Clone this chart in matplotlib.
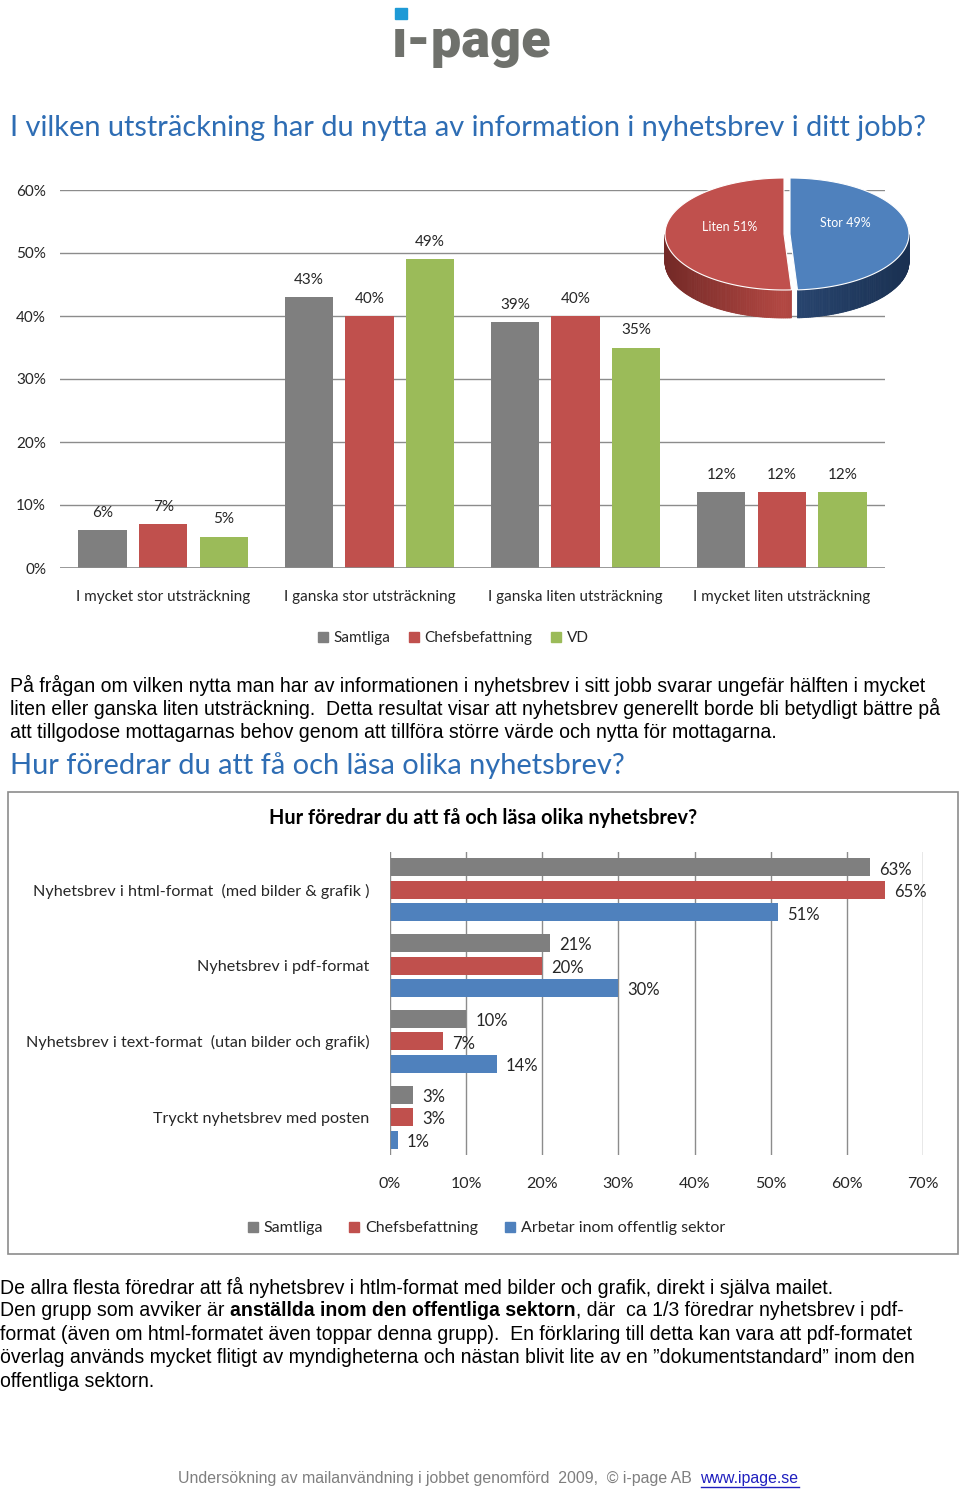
import numpy as np
import matplotlib
matplotlib.use("Agg")
from matplotlib import pyplot as plt
from matplotlib.patches import Polygon, Rectangle
from matplotlib.lines import Line2D

# data - top chart
top_cats = ["I mycket stor utsträckning", "I ganska stor utsträckning",
            "I ganska liten utsträckning", "I mycket liten utsträckning"]
top_series = ["Samtliga", "Chefsbefattning", "VD"]
samtliga = [6, 43, 39, 12]
chefs = [7, 40, 40, 12]
vd = [5, 49, 35, 12]

# data - pie
pie_labels = ["Liten", "Stor"]
pie_vals = [51, 49]

# data - horizontal chart
h_cats = ["Nyhetsbrev i html-format  (med bilder & grafik )", "Nyhetsbrev i pdf-format",
          "Nyhetsbrev i text-format  (utan bilder och grafik)", "Tryckt nyhetsbrev med posten"]
h_series = ["Samtliga", "Chefsbefattning", "Arbetar inom offentlig sektor"]
h_samtliga = [63, 21, 10, 3]
h_chefs = [65, 20, 7, 3]
h_offentlig = [51, 30, 14, 1]

GREY = "#7F7F7F"
RED = "#C0504D"
GREEN = "#9BBB59"
BLUE = "#4F81BD"
TITLE_BLUE = "#2E6DB4"
TXT = "#262626"
CAL = ["Lato", "DejaVu Sans"]
ARIAL = ["Liberation Sans", "DejaVu Sans"]

W, H = 960, 1490
fig = plt.figure(figsize=(9.6, 14.9), dpi=100)


def fx(x):
    return x / W


def fy(y):
    return 1 - y / H


def ax_box(x0, y0, x1, y1):
    return [fx(x0), fy(y1), fx(x1) - fx(x0), fy(y0) - fy(y1)]


# logo
fig.text(fx(392), fy(57), "ı-page", fontsize=39, fontweight="black", color="#6F716C",
         family=["Roboto", "DejaVu Sans"], ha="left", va="baseline")
fig.patches.append(Rectangle((fx(395), fy(19)), fx(12), 11 / H, color="#1E9AD6",
                             transform=fig.transFigure, figure=fig))

# title 1
fig.text(fx(10), fy(128), "I vilken utsträckning har du nytta av information i nyhetsbrev i ditt jobb?",
         fontsize=20.9, color=TITLE_BLUE, family=CAL, va="center")

# ---- top bar chart
ax = fig.add_axes(ax_box(60, 190, 885, 568))
x = np.arange(len(top_cats))
bw = 0.235
off = 0.294
for i, (vals, col) in enumerate(zip([samtliga, chefs, vd], [GREY, RED, GREEN])):
    pos = x + (i - 1) * off
    ax.bar(pos, vals, width=bw, color=col, zorder=3)
    for p, v in zip(pos, vals):
        ax.text(p, v + 2.7, f"{v}%", ha="center", va="center", fontsize=11,
                family=CAL, color=TXT)
ax.set_xlim(-0.5, 3.5)
ax.set_ylim(0, 60)
ax.set_yticks(range(0, 61, 10))
ax.set_yticklabels([f"{t}%" for t in range(0, 61, 10)], family=CAL, fontsize=11, color=TXT)
ax.set_xticks(x)
ax.set_xticklabels(top_cats, family=CAL, fontsize=11, color=TXT)
ax.tick_params(length=0, pad=10)
ax.tick_params(axis="x", pad=16)
ax.grid(axis="y", color="#8C8C8C", linewidth=1, zorder=0)
for s in ax.spines.values():
    s.set_visible(False)
ax.axhline(0, color="#8C8C8C", linewidth=1.2, zorder=4)

handles = [Line2D([], [], marker="s", linestyle="none", color=c, markersize=7)
           for c in [GREY, RED, GREEN]]
fig.legend(handles, top_series, loc="center", bbox_to_anchor=(fx(453), fy(638)), ncol=3,
           frameon=False, prop={"family": CAL, "size": 11}, handlelength=0.7,
           handletextpad=0.35, columnspacing=1.2, labelcolor=TXT)

# ---- 3D-ish pie
pax = fig.add_axes(ax_box(655, 165, 920, 330))
pax.set_xlim(655, 920)
pax.set_ylim(330, 165)
pax.axis("off")
cx, cy, rx, ry, depth = 787, 234, 119, 56, 28
fr = np.array(pie_vals, dtype=float) / sum(pie_vals)
# Liten: from 90 deg counterclockwise, Stor: from 90 deg clockwise
angles = {"Liten": (90, 90 + 360 * fr[0]), "Stor": (90 - 360 * fr[1], 90)}
shift = {"Liten": -3, "Stor": 3}
top_col = {"Liten": RED, "Stor": BLUE}
side_dark = {"Liten": np.array([0.45, 0.16, 0.15]), "Stor": np.array([0.10, 0.19, 0.32])}
side_light = {"Liten": np.array([0.70, 0.28, 0.26]), "Stor": np.array([0.20, 0.33, 0.52])}
for name in pie_labels:
    a0, a1 = angles[name]
    dx = shift[name]
    # side strips on the visible (front) part
    ts = np.linspace(np.radians(a0), np.radians(a1), 200)
    for k in range(len(ts) - 1):
        t0, t1 = ts[k], ts[k + 1]
        if np.sin((t0 + t1) / 2) > 0:
            continue
        xa, xb = cx + dx + rx * np.cos(t0), cx + dx + rx * np.cos(t1)
        ya, yb = cy - ry * np.sin(t0), cy - ry * np.sin(t1)
        m = abs(np.cos((t0 + t1) / 2))
        col = side_light[name] * (1 - m) + side_dark[name] * m
        if name == "Stor":
            col = side_light[name] * (1 - m) * 0.6 + side_dark[name] * (0.4 + m * 0.6)
        pax.add_patch(Polygon([(xa, ya), (xb, yb), (xb, yb + depth), (xa, ya + depth)],
                              closed=True, facecolor=np.clip(col, 0, 1),
                              edgecolor=np.clip(col, 0, 1), linewidth=0.6))
    # top face
    pts = [(cx + dx, cy)] + [(cx + dx + rx * np.cos(t), cy - ry * np.sin(t)) for t in ts]
    pax.add_patch(Polygon(pts, closed=True, facecolor=top_col[name], edgecolor="white",
                          linewidth=0.8, zorder=5))
pax.text(730, 227, f"{pie_labels[0]} {pie_vals[0]}%", color="white", fontsize=9,
         family=CAL, ha="center", va="center", zorder=6)
pax.text(845, 223, f"{pie_labels[1]} {pie_vals[1]}%", color="white", fontsize=9,
         family=CAL, ha="center", va="center", zorder=6)

# paragraph 1
para1 = ["På frågan om vilken nytta man har av informationen i nyhetsbrev i sitt jobb svarar ungefär hälften i mycket",
         "liten eller ganska liten utsträckning.  Detta resultat visar att nyhetsbrev generellt borde bli betydligt bättre på",
         "att tillgodose mottagarnas behov genom att tillföra större värde och nytta för mottagarna."]
for i, line in enumerate(para1):
    fig.text(fx(10), fy(685 + i * 23.5), line, fontsize=14.05, family=ARIAL, color="black",
             va="center")

# title 2
fig.text(fx(10), fy(766), "Hur föredrar du att få och läsa olika nyhetsbrev?",
         fontsize=20.9, color=TITLE_BLUE, family=CAL, va="center")

# box
fig.patches.append(Rectangle((fx(8), fy(1254)), fx(950), (1254 - 792) / H, fill=False,
                             edgecolor="#8C8C8C", linewidth=1.2,
                             transform=fig.transFigure, figure=fig))
fig.text(fx(483), fy(818), "Hur föredrar du att få och läsa olika nyhetsbrev?",
         fontsize=14.3, fontweight="bold", family=CAL, ha="center", va="center", color="black")

# ---- horizontal bar chart
hax = fig.add_axes(ax_box(390, 852, 923, 1155))
y = np.arange(len(h_cats))
bh = 0.238
hoff = 0.297
for i, (vals, col) in enumerate(zip([h_samtliga, h_chefs, h_offentlig], [GREY, RED, BLUE])):
    pos = y + (i - 1) * hoff
    hax.barh(pos, [v / 100 for v in vals], height=bh, color=col, zorder=3)
    for p, v in zip(pos, vals):
        hax.text(v / 100 + 0.012, p + 0.03, f"{v}%", ha="left", va="center", fontsize=12,
                 family=CAL, color=TXT, zorder=4)
hax.set_xlim(0, 0.7)
hax.set_ylim(3.5, -0.5)
hax.set_xticks(np.arange(0, 0.71, 0.1))
hax.set_xticklabels([f"{t}%" for t in range(0, 71, 10)], family=CAL, fontsize=11.5, color=TXT)
hax.set_yticks(y)
hax.set_yticklabels(h_cats, family=CAL, fontsize=11.6, color=TXT)
hax.tick_params(length=0)
hax.tick_params(axis="x", pad=16)
hax.tick_params(axis="y", pad=15)
hax.grid(axis="x", color="#8C8C8C", linewidth=1, zorder=0)
for s in hax.spines.values():
    s.set_visible(False)
hax.axvline(0, color="#8C8C8C", linewidth=1.2, zorder=4)

hhandles = [Line2D([], [], marker="s", linestyle="none", color=c, markersize=7)
            for c in [GREY, RED, BLUE]]
fig.legend(hhandles, h_series, loc="center", bbox_to_anchor=(fx(486), fy(1228)), ncol=3,
           frameon=False, prop={"family": CAL, "size": 11.5}, handlelength=0.7,
           handletextpad=0.35, columnspacing=1.6, labelcolor=TXT)

# paragraph 2
renderer = fig.canvas.get_renderer()
para2 = [[("De allra flesta föredrar att få nyhetsbrev i htlm-format med bilder och grafik, direkt i själva mailet.", "normal")],
         [("Den grupp som avviker är ", "normal"), ("anställda inom den offentliga sektorn", "bold"),
          (", där  ca 1/3 föredrar nyhetsbrev i pdf-", "normal")],
         [("format (även om html-formatet även toppar denna grupp).  En förklaring till detta kan vara att pdf-formatet", "normal")],
         [("överlag används mycket flitigt av myndigheterna och nästan blivit lite av en ”dokumentstandard” inom den", "normal")],
         [("offentliga sektorn.", "normal")]]
for i, parts in enumerate(para2):
    xpos = 0
    for txt, wt in parts:
        t = fig.text(fx(xpos), fy(1287 + i * 23.6), txt, fontsize=14.05, family=ARIAL,
                     fontweight=wt, color="black", va="center")
        bb = t.get_window_extent(renderer)
        xpos = xpos + bb.width

# footer
foot = fig.text(fx(178), fy(1479), "Undersökning av mailanvändning i jobbet genomförd  2009,  © i-page AB  ",
                fontsize=11.4, family=ARIAL, color="#7F7F7F", va="center")
bb = foot.get_window_extent(renderer)
link = fig.text(fx(178 + bb.width), fy(1479), "www.ipage.se", fontsize=11.4, family=ARIAL,
                color="#1F1FBF", va="center")
lb = link.get_window_extent(renderer)
fig.add_artist(Line2D([lb.x0 / W, lb.x1 / W], [fy(1487), fy(1487)], color="#1F1FBF",
                      linewidth=1, transform=fig.transFigure))

fig.savefig("out.png", dpi=100)
